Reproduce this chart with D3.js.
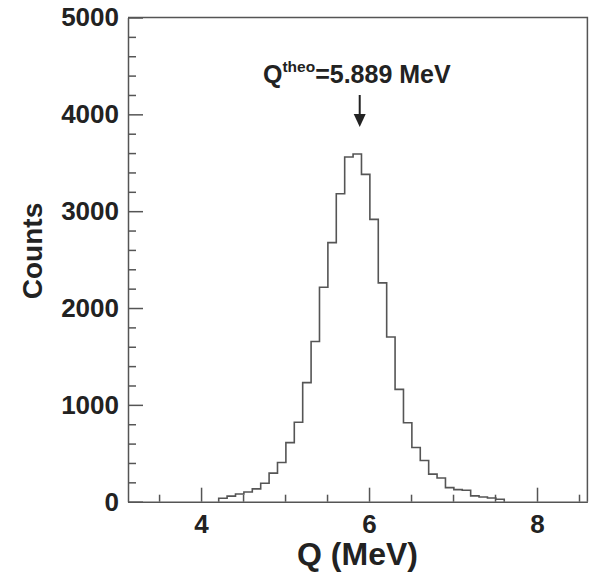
<!DOCTYPE html>
<html>
<head>
<meta charset="utf-8">
<script src="https://cdn.jsdelivr.net/npm/d3@7"></script>
<style>
  body { margin: 0; background: #fff; }
  text { font-family: "Liberation Sans", Arial, Helvetica, sans-serif; font-weight: bold; fill: #222; }
</style>
</head>
<body>
<div id="chart"></div>
<script>
// histogram of Q values, 0.1 MeV bins starting at 4.21 MeV
var binStart = 4.21,
    binWidth = 0.1;
var counts = [35, 58, 80, 100, 132, 190, 295, 405, 610, 820, 1230, 1655, 2215, 2675, 3180,
              3560, 3590, 3380, 2915, 2260, 1700, 1160, 815, 560, 425, 285, 245, 145, 125, 118,
              60, 48, 38, 25];
var xMajorTicks = [4, 6, 8];
var xMinorTicks = [3.5, 4.5, 5, 5.5, 6.5, 7, 7.5, 8.5];
var yMajorTicks = [0, 1000, 2000, 3000, 4000, 5000];
var qTheo = 5.889;

var lineColor = "#555";

var svg = d3.select("#chart")
            .append("svg")
            .attr("width", 592)
            .attr("height", 577);

var x = d3.scaleLinear().domain([3.13, 8.6]).range([128, 587.4]);
var y = d3.scaleLinear().domain([0, 5000]).range([501.7, 17.5]);

// y axis, ticks drawn inside the frame
var yAxis = d3.axisLeft(y).tickValues(yMajorTicks).tickFormat(d3.format("d"))
              .tickSize(-15).tickSizeOuter(0).tickPadding(9);
var gy = svg.append("g").attr("transform", "translate(128,0)").call(yAxis);
gy.selectAll("text").style("font-size", "26px");

var yMinor = d3.range(0, 5001, 200).filter(function(v){ return v % 1000 !== 0; });
var gyMinor = svg.append("g").attr("transform", "translate(128,0)")
    .call(d3.axisLeft(y).tickValues(yMinor).tickSize(-8).tickFormat(""));
gyMinor.select(".domain").remove();

// x axis
var xAxis = d3.axisBottom(x).tickValues(xMajorTicks).tickFormat(d3.format("d"))
              .tickSize(-14).tickSizeOuter(0).tickPadding(12.5);
var gx = svg.append("g").attr("transform", "translate(0,501.7)").call(xAxis);
gx.selectAll("text").style("font-size", "26px");

var gxMinor = svg.append("g").attr("transform", "translate(0,501.7)")
    .call(d3.axisBottom(x).tickValues(xMinorTicks).tickSize(-7).tickFormat(""));
gxMinor.select(".domain").remove();

svg.selectAll(".domain, .tick line").attr("stroke", lineColor).attr("stroke-width", 1.5);

// frame top + right
svg.append("path")
   .attr("d", "M" + x.range()[0] + "," + y.range()[1] + "H" + x.range()[1] + "V" + y.range()[0])
   .attr("fill", "none").attr("stroke", lineColor).attr("stroke-width", 1.5);

// histogram outline
var pts = [[binStart, 0]];
counts.forEach(function(c, i){
    pts.push([binStart + i * binWidth, c]);
    pts.push([binStart + (i + 1) * binWidth, c]);
});
pts.push([binStart + counts.length * binWidth, 0]);

var histLine = d3.line().x(function(d){ return x(d[0]); }).y(function(d){ return y(d[1]); });
svg.append("path")
   .datum(pts)
   .attr("d", histLine)
   .attr("fill", "none")
   .attr("stroke", lineColor)
   .attr("stroke-width", 1.6);

// axis titles
svg.append("text")
   .attr("transform", "translate(42,251) rotate(-90)")
   .attr("text-anchor", "middle")
   .style("font-size", "28px")
   .text("Counts");

svg.append("text")
   .attr("x", 357.5).attr("y", 565)
   .attr("text-anchor", "middle")
   .style("font-size", "32px")
   .text("Q (MeV)");

// annotation
var ann = svg.append("text").attr("x", 263).attr("y", 83).style("font-size", "25px");
ann.append("tspan").text("Q");
ann.append("tspan").attr("dy", -11).style("font-size", "15.5px").text("theo");
ann.append("tspan").attr("dy", 11).text("=" + qTheo + " MeV");

var ax = x(qTheo);
svg.append("line")
   .attr("x1", ax).attr("x2", ax).attr("y1", 95).attr("y2", 116)
   .attr("stroke", "#222").attr("stroke-width", 2);
svg.append("path")
   .attr("d", "M" + (ax - 6) + ",114 L" + (ax + 6) + ",114 L" + ax + ",127 Z")
   .attr("fill", "#222");
</script>
</body>
</html>
